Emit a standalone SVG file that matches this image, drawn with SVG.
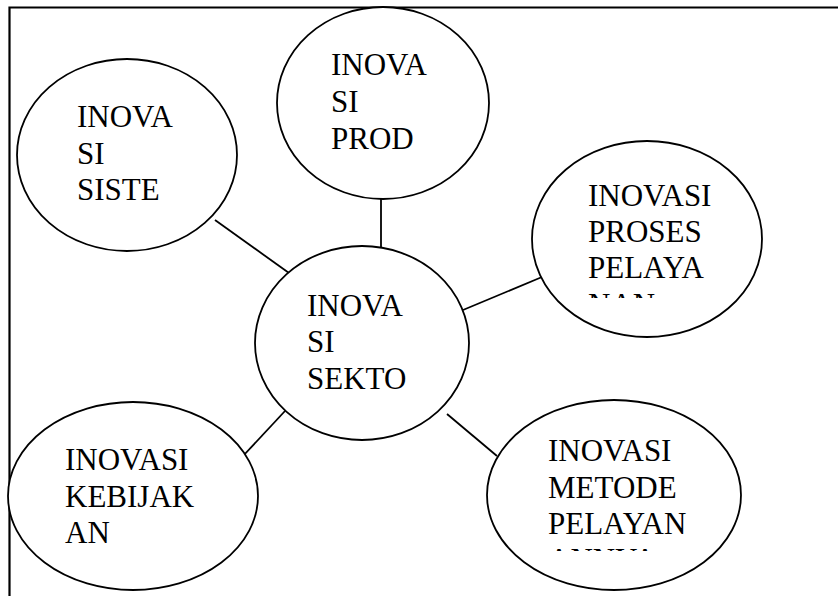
<svg xmlns="http://www.w3.org/2000/svg" width="838" height="596" viewBox="0 0 838 596">
<style>
.n{fill:#fff;stroke:#000;stroke-width:1.8}
.t{font-family:"Liberation Serif","Times New Roman",serif;font-size:31px;fill:#000}
.c line{stroke:#000;stroke-width:1.8}
.b{stroke:#000;stroke-width:2.2;fill:none}
</style>
<defs>
<clipPath id="clipA"><rect x="560" y="0" width="200" height="298"/></clipPath>
<clipPath id="clipB"><rect x="520" y="0" width="220" height="551"/></clipPath>
</defs>
<rect width="838" height="596" fill="#fff"/>
<path class="b" d="M9.5,596 V7.5 H838"/>
<g class="c" id="connectors">
<line x1="381" y1="199" x2="381" y2="248"/>
<line x1="215" y1="220" x2="289" y2="273"/>
<line x1="463" y1="310" x2="542" y2="277"/>
<line x1="447" y1="414" x2="497" y2="456"/>
<line x1="243" y1="456" x2="285" y2="411"/>
</g>
<g id="produk">
<ellipse class="n" cx="383" cy="103" rx="106" ry="96"/>
<text class="t"><tspan x="331" y="75">INOVA</tspan><tspan x="331" y="112">SI</tspan><tspan x="331" y="149">PROD</tspan></text>
</g>
<g id="sistem">
<ellipse class="n" cx="127" cy="155" rx="110" ry="96"/>
<text class="t"><tspan x="77" y="127">INOVA</tspan><tspan x="77" y="164">SI</tspan><tspan x="77" y="200">SISTE</tspan></text>
</g>
<g id="proses">
<ellipse class="n" cx="647" cy="239" rx="115" ry="98"/>
<text class="t"><tspan x="588" y="206">INOVASI</tspan><tspan x="588" y="242">PROSES</tspan><tspan x="588" y="278">PELAYA</tspan></text>
<text class="t" x="588" y="315" clip-path="url(#clipA)">NAN</text>
</g>
<g id="sektor">
<ellipse class="n" cx="362" cy="343" rx="107" ry="97"/>
<text class="t"><tspan x="307" y="316">INOVA</tspan><tspan x="307" y="352">SI</tspan><tspan x="307" y="389">SEKTO</tspan></text>
</g>
<g id="kebijakan">
<ellipse class="n" cx="133" cy="496" rx="125" ry="94"/>
<text class="t"><tspan x="65" y="470">INOVASI</tspan><tspan x="65" y="507">KEBIJAK</tspan><tspan x="65" y="543">AN</tspan></text>
</g>
<g id="metode">
<ellipse class="n" cx="614" cy="495" rx="127" ry="95"/>
<text class="t"><tspan x="548" y="461">INOVASI</tspan><tspan x="548" y="498">METODE</tspan><tspan x="548" y="534">PELAYAN</tspan></text>
<text class="t" x="548" y="570" clip-path="url(#clipB)">ANNYA</text>
</g>
</svg>
